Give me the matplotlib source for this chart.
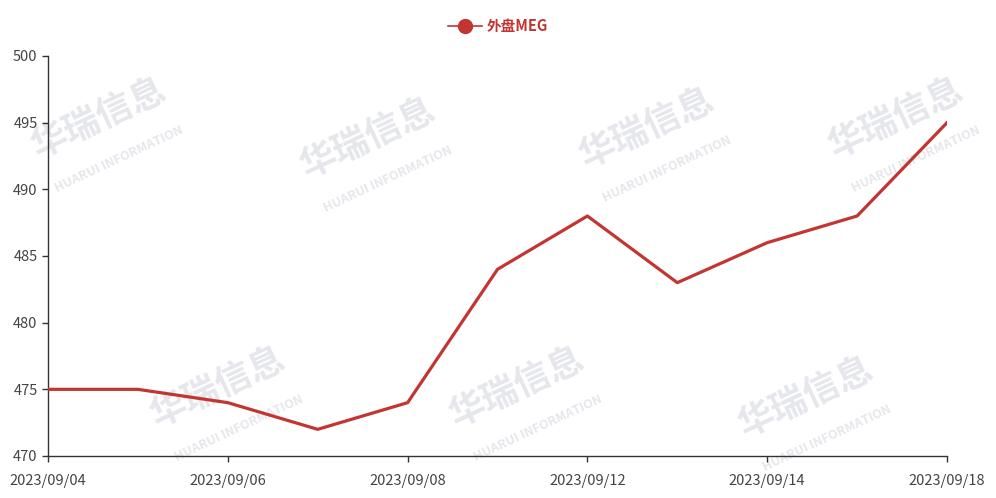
import matplotlib
matplotlib.use("Agg")
import matplotlib.pyplot as plt
from matplotlib.lines import Line2D

plt.rcParams['font.family'] = ['Noto Sans CJK SC', 'DejaVu Sans']

dates = ["2023/09/04", "2023/09/05", "2023/09/06", "2023/09/07", "2023/09/08", "2023/09/11",
         "2023/09/12", "2023/09/13", "2023/09/14", "2023/09/15", "2023/09/18"]
meg = [475, 475, 474, 472, 474, 484, 488, 483, 486, 488, 495]
series_name = "外盘MEG"
line_color = "#c23531"
axis_color = "#333333"

fig = plt.figure(figsize=(9.96, 4.98), dpi=100)

# watermark layer behind everything (faint text standing in for the logo image)
bg = fig.add_axes([0, 0, 1, 1], zorder=-5)
bg.set_axis_off()
wm_spots = [(0.10, 0.76), (0.37, 0.72), (0.65, 0.74), (0.90, 0.76),
            (0.22, 0.22), (0.52, 0.22), (0.81, 0.20)]
for x, y in wm_spots:
    bg.text(x, y, "华瑞信息", fontsize=26, fontweight="bold", color="#e6e7ec",
            rotation=25, ha="center", va="center", transform=bg.transAxes)
    bg.text(x + 0.02, y - 0.08, "HUARUI INFORMATION", fontsize=9, fontweight="bold",
            color="#e6e7ec", rotation=25, ha="center", va="center", transform=bg.transAxes)

ax = fig.add_axes([48 / 996, 42 / 498, 899 / 996, 400 / 498], zorder=1)
x = list(range(len(dates)))
ax.plot(x, meg, color=line_color, linewidth=2.3, zorder=3)

ax.set_xlim(0, len(dates) - 1)
ax.set_ylim(470, 500)
ax.set_yticks(range(470, 501, 5))
ax.set_xticks(x[::2])
ax.set_xticklabels(dates[::2])
ax.patch.set_alpha(0)

for side in ["top", "right"]:
    ax.spines[side].set_visible(False)
for side in ["left", "bottom"]:
    ax.spines[side].set_color(axis_color)
    ax.spines[side].set_linewidth(1)
ax.tick_params(axis="both", colors=axis_color, labelsize=10.5, length=4, width=1)
ax.tick_params(axis="both", labelcolor="#444444")
ax.tick_params(axis="x", pad=9)

handle = Line2D([], [], color=line_color, marker="o", markersize=10, linewidth=1.2)
leg = fig.legend([handle], [series_name], loc="center", bbox_to_anchor=(0.5, 0.948),
                 frameon=False, handlelength=2.3, handletextpad=0.3,
                 prop={"size": 10.5, "weight": "bold"})
for t in leg.get_texts():
    t.set_color(line_color)

fig.savefig("out.png", dpi=100)
